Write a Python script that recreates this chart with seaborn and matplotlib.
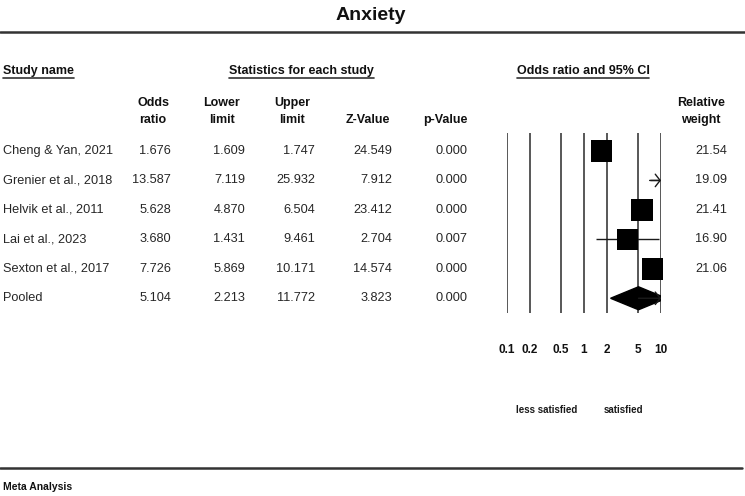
import numpy as np
import pandas as pd
import matplotlib.pyplot as plt
import matplotlib.transforms as mtransforms
import seaborn as sns

# data
studies = ['Cheng & Yan, 2021', 'Grenier et al., 2018', 'Helvik et al., 2011',
           'Lai et al., 2023', 'Sexton et al., 2017', 'Pooled']
odds_ratio = [1.676, 13.587, 5.628, 3.680, 7.726, 5.104]
lower = [1.609, 7.119, 4.870, 1.431, 5.869, 2.213]
upper = [1.747, 25.932, 6.504, 9.461, 10.171, 11.772]
z_value = [24.549, 7.912, 23.412, 2.704, 14.574, 3.823]
p_value = [0.000, 0.000, 0.000, 0.007, 0.000, 0.000]
rel_weight = [21.54, 19.09, 21.41, 16.90, 21.06, np.nan]
x_ticks = [0.1, 0.2, 0.5, 1, 2, 5, 10]
x_tick_labels = ['0.1', '0.2', '0.5', '1', '2', '5', '10']

df = pd.DataFrame({'study': studies, 'or': odds_ratio, 'lo': lower, 'up': upper,
                   'z': z_value, 'p': p_value, 'w': rel_weight})
df['row'] = np.arange(len(df))
is_pooled = df['study'] == 'Pooled'
ind = df[~is_pooled]
pooled = df[is_pooled].iloc[0]

sns.set_style('white')
plt.rcParams['font.family'] = ['Liberation Sans', 'DejaVu Sans']

W, H = 745, 496
fig = plt.figure(figsize=(7.45, 4.96), dpi=100)
bg = fig.add_axes([0, 0, 1, 1])
bg.set_xlim(0, W)
bg.set_ylim(H, 0)
bg.axis('off')

# forest panel (pixel box)
left, right, top, bottom = 507, 661, 133, 313
ax = fig.add_axes([left / W, 1 - bottom / H, (right - left) / W, (bottom - top) / H])
ax.patch.set_visible(False)

xmax = x_ticks[-1]
line_col = '#1a1a1a'

for t in x_ticks:
    ax.axvline(t, color='#2a2a2a', lw=1.1, zorder=1)

ax.hlines(ind['row'], ind['lo'], ind['up'], color=line_col, lw=1.0, zorder=2)
for _, r in df[df['up'] > xmax].iterrows():
    start = r['lo'] if r['study'] != 'Pooled' else r['or']
    ax.annotate('', xy=(xmax, r['row']), xytext=(start, r['row']),
                arrowprops=dict(arrowstyle='->,head_length=0.35,head_width=0.45',
                                color=line_col, lw=1.0, shrinkA=0, shrinkB=0,
                                mutation_scale=10), zorder=3, annotation_clip=False)

sns.scatterplot(data=ind[ind['or'] <= xmax], x='or', y='row', size='w',
                sizes=(215, 240), size_norm=(16.9, 21.54), marker='s',
                color='black', linewidth=0, legend=False, ax=ax, zorder=4,
                clip_on=False)

dh = 0.39
ax.fill([pooled['lo'], pooled['or'], pooled['up'], pooled['or']],
        [pooled['row'], pooled['row'] - dh, pooled['row'], pooled['row'] + dh],
        color='black', zorder=2)

ax.set_xscale('log')
ax.set_xlim(0.1, xmax)
ax.set_ylim(5.5, -0.61)
ax.set_xticks(x_ticks)
ax.set_xticklabels(x_tick_labels, fontsize=8.5, fontweight='bold', color='#111111')
ax.minorticks_off()
ax.tick_params(axis='x', length=0, pad=22)
ax.set_yticks([])
ax.set_xlabel('')
ax.set_ylabel('')
for s in ax.spines.values():
    s.set_visible(False)

# table text
trans = mtransforms.blended_transform_factory(bg.transData, ax.transData)
txt = dict(transform=trans, va='center', fontsize=9.2, color='#262626')
for _, r in df.iterrows():
    y = r['row']
    bg.text(3, y, r['study'], ha='left', **txt)
    bg.text(171, y, f"{r['or']:.3f}", ha='right', **txt)
    bg.text(245, y, f"{r['lo']:.3f}", ha='right', **txt)
    bg.text(315, y, f"{r['up']:.3f}", ha='right', **txt)
    bg.text(392, y, f"{r['z']:.3f}", ha='right', **txt)
    bg.text(467, y, f"{r['p']:.3f}", ha='right', **txt)
    if not np.isnan(r['w']):
        bg.text(727, y, f"{r['w']:.2f}", ha='right', **txt)

# headers
hd = dict(fontsize=9, fontweight='bold', color='#111111', va='baseline')
bg.text(371, 20, 'Anxiety', ha='center', fontsize=14, fontweight='bold',
        color='#111111')
bg.plot([0, W], [32, 32], color='#333333', lw=1.8)

bg.text(3, 74, 'Study name', ha='left', **hd)
bg.plot([3, 74], [78, 78], color='#333333', lw=1.2)
bg.text(301, 74, 'Statistics for each study', ha='center', **hd)
bg.plot([229, 374], [78, 78], color='#333333', lw=1.2)
bg.text(583, 74, 'Odds ratio and 95% CI', ha='center', **hd)
bg.plot([517, 649], [78, 78], color='#333333', lw=1.2)

for x, l1, l2 in [(153, 'Odds', 'ratio'), (222, 'Lower', 'limit'),
                  (292, 'Upper', 'limit'), (368, '', 'Z-Value'),
                  (445, '', 'p-Value'), (701, 'Relative', 'weight')]:
    if l1:
        bg.text(x, 106, l1, ha='center', **hd)
    bg.text(x, 123, l2, ha='center', **hd)

sm = dict(fontsize=7, fontweight='bold', color='#1a1a1a', va='baseline')
bg.text(547, 413, 'less satisfied', ha='center', **sm)
bg.text(623, 413, 'satisfied', ha='center', **sm)

bg.plot([0, 742], [468, 468], color='#333333', lw=1.8)
bg.text(3, 490, 'Meta Analysis', ha='left', fontsize=7.5, fontweight='bold',
        color='#111111', va='baseline')

fig.savefig('out.png', dpi=100)
